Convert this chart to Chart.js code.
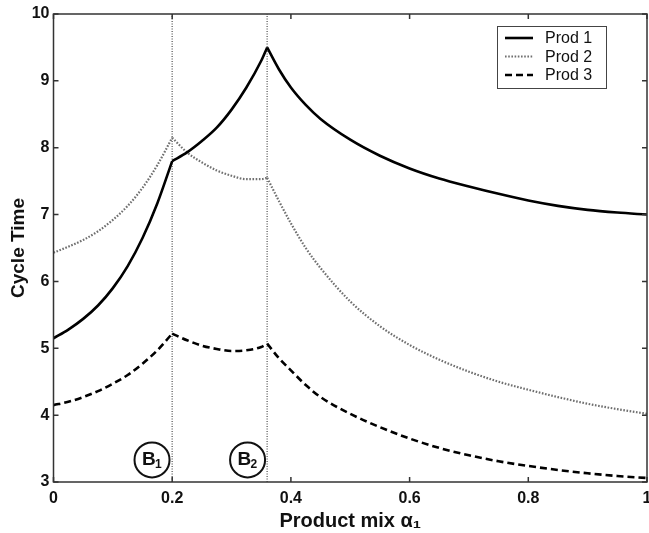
<!DOCTYPE html>
<html lang="en">
<head>
<meta charset="UTF-8">
<title>Cycle Time vs Product mix</title>
<script src="https://cdn.jsdelivr.net/npm/chart.js"></script>
<style>
  html, body { margin: 0; padding: 0; background: #fff; }
  #wrap { width: 649px; height: 533px; }
</style>
</head>
<body>
<div id="wrap"><canvas id="cycleChart" width="649" height="533"></canvas></div>
<script>
// product mix alpha_1 sample points
const alpha = [0, 0.025, 0.05, 0.075, 0.1, 0.125, 0.15, 0.175, 0.2,
               0.225, 0.25, 0.275, 0.3, 0.325, 0.35, 0.36,
               0.38, 0.4, 0.425, 0.45, 0.5, 0.55, 0.6, 0.65, 0.7, 0.75, 0.8, 0.85, 0.9, 0.95, 1.0];
const prod1 = [5.15, 5.28, 5.44, 5.64, 5.9, 6.23, 6.65, 7.17, 7.8,
               7.93, 8.1, 8.3, 8.57, 8.9, 9.3, 9.5,
               9.17, 8.9, 8.64, 8.43, 8.12, 7.88, 7.69, 7.54, 7.42, 7.31, 7.21, 7.13, 7.07, 7.03, 7.0];
const prod2 = [6.43, 6.52, 6.62, 6.75, 6.92, 7.13, 7.4, 7.74, 8.15,
               7.93, 7.78, 7.66, 7.58, 7.53, 7.53, 7.55,
               7.2, 6.87, 6.5, 6.2, 5.7, 5.33, 5.05, 4.83, 4.65, 4.5, 4.38, 4.27, 4.17, 4.09, 4.02];
const prod3 = [4.15, 4.2, 4.27, 4.36, 4.47, 4.6, 4.77, 4.97, 5.22,
               5.12, 5.04, 4.99, 4.96, 4.97, 5.02, 5.07,
               4.85, 4.67, 4.45, 4.27, 4.02, 3.82, 3.65, 3.51, 3.4, 3.31, 3.24, 3.18, 3.13, 3.09, 3.06];

const seriesNames = ['Prod 1', 'Prod 2', 'Prod 3'];
const breakpoints = [0.2, 0.36];
const bNames = ['1', '2'];        // subscripts of the circled B labels
const bAlpha = [0.166, 0.327];    // where the circled labels sit
const bValue = 3.33;
const xTicks = [0, 0.2, 0.4, 0.6, 0.8, 1];
const yMin = 3, yMax = 10;

const FONT = '"Liberation Sans", Arial, sans-serif';

const styles = [
  { borderColor: '#000', borderWidth: 2.6, borderDash: [] },
  { borderColor: '#6f6f6f', borderWidth: 2.2, borderDash: [1.6, 1.6] },
  { borderColor: '#000', borderWidth: 2.6, borderDash: [7, 4] }
];

// split every series at the breakpoints so the kinks stay sharp
const cuts = [0, ...breakpoints.map(b => alpha.indexOf(b)), alpha.length - 1];
const datasets = [];
[prod1, prod2, prod3].forEach((ys, s) => {
  for (let k = 0; k < cuts.length - 1; k++) {
    const data = [];
    for (let i = cuts[k]; i <= cuts[k + 1]; i++) data.push({ x: alpha[i], y: ys[i] });
    datasets.push(Object.assign({ label: seriesNames[s], data: data, inLegend: k === 0 }, styles[s]));
  }
});
breakpoints.forEach(b => {
  datasets.push({
    label: '', data: [{ x: b, y: yMin }, { x: b, y: yMax }],
    borderColor: '#7a7a7a', borderWidth: 1.6, borderDash: [1, 1.5], cubicInterpolationMode: 'default'
  });
});

// frame, inward ticks, circled B labels and the legend box
const decor = {
  id: 'decor',
  afterDatasetsDraw(chart) {
    const { ctx, chartArea: a, scales: { x, y } } = chart;
    ctx.save();
    ctx.strokeStyle = '#333';
    ctx.lineWidth = 1.5;
    ctx.strokeRect(a.left, a.top, a.right - a.left, a.bottom - a.top);
    const tl = 5;
    ctx.beginPath();
    xTicks.forEach(v => {
      const px = x.getPixelForValue(v);
      ctx.moveTo(px, a.bottom); ctx.lineTo(px, a.bottom - tl);
      ctx.moveTo(px, a.top); ctx.lineTo(px, a.top + tl);
    });
    for (let v = yMin; v <= yMax; v++) {
      const py = y.getPixelForValue(v);
      ctx.moveTo(a.left, py); ctx.lineTo(a.left + tl, py);
      ctx.moveTo(a.right, py); ctx.lineTo(a.right - tl, py);
    }
    ctx.stroke();

    // circled labels
    bAlpha.forEach((b, i) => {
      const cx = x.getPixelForValue(b), cy = y.getPixelForValue(bValue);
      ctx.beginPath();
      ctx.fillStyle = '#fff';
      ctx.strokeStyle = '#111';
      ctx.lineWidth = 2;
      ctx.arc(cx, cy, 17.5, 0, Math.PI * 2);
      ctx.fill(); ctx.stroke();
      ctx.fillStyle = '#111';
      ctx.textBaseline = 'middle';
      ctx.textAlign = 'left';
      ctx.font = 'bold 19px ' + FONT;
      ctx.fillText('B', cx - 10, cy);
      ctx.font = 'bold 12px ' + FONT;
      ctx.fillText(bNames[i], cx + 3, cy + 5);
    });

    // legend
    const lx = 497, ly = 26, lw = 109, lh = 62;
    ctx.fillStyle = '#fff';
    ctx.fillRect(lx, ly, lw, lh);
    ctx.strokeStyle = '#444';
    ctx.lineWidth = 1;
    ctx.strokeRect(lx + 0.5, ly + 0.5, lw, lh);
    chart.data.datasets.filter(d => d.inLegend).forEach((d, i) => {
      const yy = ly + 12 + i * 18.5;
      ctx.beginPath();
      ctx.strokeStyle = d.borderColor;
      ctx.lineWidth = d.borderWidth;
      ctx.setLineDash(d.borderDash);
      ctx.moveTo(lx + 8, yy); ctx.lineTo(lx + 36, yy);
      ctx.stroke();
      ctx.setLineDash([]);
      ctx.fillStyle = '#111';
      ctx.font = '16px ' + FONT;
      ctx.textAlign = 'left';
      ctx.textBaseline = 'middle';
      ctx.fillText(d.label, lx + 48, yy + 1);
    });
    ctx.restore();
  }
};

const ctx = document.getElementById('cycleChart').getContext('2d');
new Chart(ctx, {
  type: 'line',
  data: { datasets: datasets },
  options: {
    responsive: false,
    animation: false,
    layout: { padding: { left: 0, right: 2, top: 14, bottom: 0 } },
    elements: { point: { radius: 0 }, line: { cubicInterpolationMode: 'monotone', fill: false } },
    plugins: { legend: { display: false }, tooltip: { enabled: false } },
    scales: {
      x: {
        type: 'linear', min: 0, max: 1,
        afterBuildTicks: s => { s.ticks = xTicks.map(v => ({ value: v })); },
        afterFit: s => { s.height = 51; s.paddingLeft = 0; s.paddingRight = 0; },
        grid: { display: false, drawTicks: false },
        border: { display: false },
        ticks: {
          color: '#111', padding: 7, maxRotation: 0, autoSkip: false,
          font: { family: FONT, size: 16, weight: 'bold' },
          callback: v => String(Math.round(v * 10) / 10)
        },
        title: {
          display: true, text: 'Product mix α\u2081', color: '#111',
          font: { family: FONT, size: 20, weight: 'bold' }, padding: { top: 0, bottom: 0 }
        }
      },
      y: {
        type: 'linear', min: yMin, max: yMax,
        afterFit: s => { s.width = 53.5; s.paddingTop = 0; s.paddingBottom = 0; },
        grid: { display: false, drawTicks: false },
        border: { display: false },
        ticks: {
          stepSize: 1, color: '#111', padding: 4,
          font: { family: FONT, size: 16, weight: 'bold' }
        },
        title: {
          display: true, text: 'Cycle Time', color: '#111',
          font: { family: FONT, size: 19, weight: 'bold' }, padding: { top: 7, bottom: 0 }
        }
      }
    }
  },
  plugins: [decor]
});
</script>
</body>
</html>
